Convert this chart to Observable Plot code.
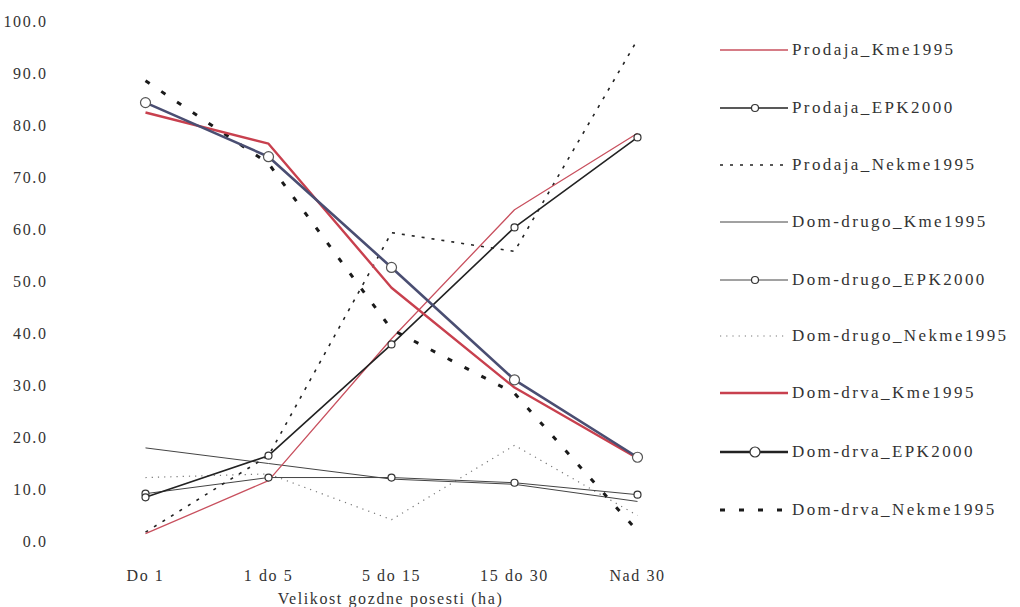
<!DOCTYPE html>
<html>
<head>
<meta charset="utf-8">
<script src="https://cdn.jsdelivr.net/npm/d3@7"></script>
<script src="https://cdn.jsdelivr.net/npm/@observablehq/plot@0.6"></script>
<style>
  html, body { margin: 0; padding: 0; background: #fff; }
  #wrap { position: relative; width: 1020px; height: 607px; overflow: hidden; }
  .lg { position: absolute; left: 718px; height: 20px; display: flex; align-items: center;
        font-family: "Liberation Serif", serif; font-size: 17px; letter-spacing: 2.4px; color: #333; }
  .lg svg { margin-right: 4px; }
</style>
</head>
<body>
<div id="wrap"></div>
<script>
// ---- data ----
const categories = ["Do 1", "1 do 5", "5 do 15", "15 do 30", "Nad 30"];
const seriesNames = [
  "Prodaja_Kme1995", "Prodaja_EPK2000", "Prodaja_Nekme1995",
  "Dom-drugo_Kme1995", "Dom-drugo_EPK2000", "Dom-drugo_Nekme1995",
  "Dom-drva_Kme1995", "Dom-drva_EPK2000", "Dom-drva_Nekme1995"
];
const prodajaKme1995     = [1.5, 11.7, 39.0, 63.8, 78.5];
const prodajaEPK2000     = [8.5, 16.5, 37.9, 60.4, 77.7];
const prodajaNekme1995   = [1.8, 16.5, 59.4, 55.8, 96.5];
const domDrugoKme1995    = [18.0, 15.0, 12.0, 11.0, 7.7];
const domDrugoEPK2000    = [9.2, 12.3, 12.3, 11.3, 9.0];
const domDrugoNekme1995  = [12.3, 13.0, 4.2, 18.5, 5.0];
const domDrvaKme1995     = [82.5, 76.5, 48.8, 29.6, 16.0];
const domDrvaEPK2000     = [84.4, 74.0, 52.7, 31.1, 16.2];
const domDrvaNekme1995   = [88.6, 72.7, 40.8, 28.5, 2.0];
const yTicks = [0, 10, 20, 30, 40, 50, 60, 70, 80, 90, 100];
const xTitle = "Velikost gozdne posesti (ha)";

const seriesValues = [
  prodajaKme1995, prodajaEPK2000, prodajaNekme1995,
  domDrugoKme1995, domDrugoEPK2000, domDrugoNekme1995,
  domDrvaKme1995, domDrvaEPK2000, domDrvaNekme1995
];

// ---- styles (per series) ----
const styles = {
  "Prodaja_Kme1995":     {stroke: "#c8505e", width: 1.3, dash: null, dot: 0},
  "Prodaja_EPK2000":     {stroke: "#222",    width: 1.6, dash: null, dot: 3.5},
  "Prodaja_Nekme1995":   {stroke: "#222",    width: 1.6, dash: "3,7", dot: 0},
  "Dom-drugo_Kme1995":   {stroke: "#444",    width: 1.0, dash: null, dot: 0},
  "Dom-drugo_EPK2000":   {stroke: "#444",    width: 1.0, dash: null, dot: 3.5},
  "Dom-drugo_Nekme1995": {stroke: "#777",    width: 1.2, dash: "1.2,5", dot: 0},
  "Dom-drva_Kme1995":    {stroke: "#c8404e", width: 2.4, dash: null, dot: 0},
  "Dom-drva_EPK2000":    {stroke: "#4a4e72", width: 2.6, dash: null, dot: 5},
  "Dom-drva_Nekme1995":  {stroke: "#1a1a1a", width: 3.0, dash: "5,14", dot: 0}
};

const rows = [];
seriesNames.forEach((s, i) => {
  categories.forEach((c, j) => rows.push({series: s, cat: c, value: seriesValues[i][j]}));
});

// draw order: thin behind, thick on top
const order = [
  "Dom-drugo_Nekme1995", "Dom-drugo_Kme1995", "Dom-drugo_EPK2000",
  "Prodaja_Nekme1995", "Prodaja_Kme1995", "Prodaja_EPK2000",
  "Dom-drva_Nekme1995", "Dom-drva_Kme1995", "Dom-drva_EPK2000"
];

const marks = [];
for (const s of order) {
  const st = styles[s];
  const data = rows.filter(r => r.series === s);
  marks.push(Plot.line(data, {
    x: "cat", y: "value", stroke: st.stroke, strokeWidth: st.width,
    strokeDasharray: st.dash || undefined, strokeLinecap: "butt"
  }));
}
for (const s of order) {
  const st = styles[s];
  if (!st.dot) continue;
  const data = rows.filter(r => r.series === s);
  marks.push(Plot.dot(data, {
    x: "cat", y: "value", r: st.dot, fill: "white", stroke: s === "Dom-drva_EPK2000" ? "#555" : "#333",
    strokeWidth: 1.2
  }));
}

const chart = Plot.plot({
  width: 1020,
  height: 607,
  marginLeft: 50,
  marginRight: 290,
  marginTop: 21,
  marginBottom: 66,
  style: {fontFamily: "Liberation Serif, serif", fontSize: "16px", letterSpacing: "1.6px", color: "#333", background: "white"},
  x: {type: "point", domain: categories, range: [143, 638], padding: 0},
  y: {domain: [0, 100], range: [541, 21]},
  marks: [
    Plot.axisY({ticks: yTicks, tickFormat: d => d.toFixed(1), tickSize: 0, tickPadding: 3, label: null}),
    Plot.axisX({tickSize: 0, tickPadding: 28, label: xTitle, labelAnchor: "center", labelArrow: "none", labelOffset: 62}),
    ...marks
  ]
});

const wrap = document.getElementById("wrap");
wrap.appendChild(chart);

// ---- legend ----
const legendY = [50, 108, 165, 222, 280, 336, 393, 452, 510];
seriesNames.forEach((s, i) => {
  const st = styles[s];
  const div = document.createElement("div");
  div.className = "lg";
  div.style.top = (legendY[i] - 10) + "px";
  const w = 70;
  const svg = d3.create("svg").attr("width", w).attr("height", 20);
  svg.append("line").attr("x1", 2).attr("x2", w).attr("y1", 10).attr("y2", 10)
    .attr("stroke", s === "Dom-drva_EPK2000" ? "#222" : st.stroke)
    .attr("stroke-width", st.width)
    .attr("stroke-dasharray", st.dash);
  if (st.dot) {
    svg.append("circle").attr("cx", w / 2 + 2).attr("cy", 10).attr("r", st.dot)
      .attr("fill", "white").attr("stroke", "#333").attr("stroke-width", 1.2);
  }
  div.appendChild(svg.node());
  const span = document.createElement("span");
  span.textContent = s;
  div.appendChild(span);
  wrap.appendChild(div);
});
</script>
</body>
</html>
